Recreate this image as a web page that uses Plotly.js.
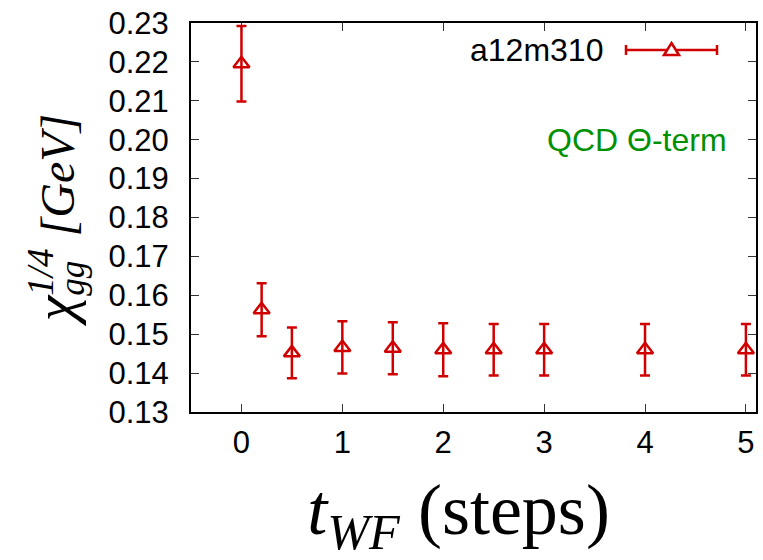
<!DOCTYPE html>
<html>
<head>
<meta charset="utf-8">
<script src="https://cdn.plot.ly/plotly-3.0.1.min.js"></script>
<style>html,body{margin:0;padding:0;background:#fff;}#chart{width:763px;height:560px;}</style>
</head>
<body>
<div id="chart"></div>
<script>
// Data
const tWF = [0, 0.2, 0.5, 1, 1.5, 2, 2.5, 3, 4, 5];
const chi14 = [0.2195, 0.1563, 0.1452, 0.1466, 0.1464, 0.1460, 0.1460, 0.1460, 0.1460, 0.1460];
const chiErr = [0.0097, 0.0068, 0.0065, 0.0067, 0.0067, 0.0068, 0.0066, 0.0066, 0.0066, 0.0066];
const xTicks = [0, 1, 2, 3, 4, 5];
const yTicks = [0.13, 0.14, 0.15, 0.16, 0.17, 0.18, 0.19, 0.20, 0.21, 0.22, 0.23];
const seriesName = 'a12m310';
const noteText = 'QCD Θ-term';

const RED = '#d00000';
const GREEN = 'rgb(0,145,0)';

const trace = {
  x: tWF, y: chi14, type: 'scatter', mode: 'markers', name: seriesName,
  showlegend: false, cliponaxis: false,
  marker: {symbol: 'triangle-up-open', size: 14, color: RED, line: {color: RED, width: 2.5}},
  error_y: {type: 'data', array: chiErr, visible: true, color: RED, thickness: 2.5, width: 5}
};

// plot area geometry (for the hand-drawn legend sample)
const L = 191, R = 7, T = 23, B = 148, W = 763, H = 560;
const pw = W - L - R, ph = H - T - B;
const px = v => (v - L) / pw;
const py = v => 1 - (v - T) / ph;

const legY = 50;
const shapes = [
  {type: 'line', xref: 'paper', yref: 'paper', x0: px(626), x1: px(717), y0: py(legY), y1: py(legY), line: {color: RED, width: 2.5}},
  {type: 'line', xref: 'paper', yref: 'paper', x0: px(626), x1: px(626), y0: py(legY - 5), y1: py(legY + 5), line: {color: RED, width: 2.5}},
  {type: 'line', xref: 'paper', yref: 'paper', x0: px(717), x1: px(717), y0: py(legY - 5), y1: py(legY + 5), line: {color: RED, width: 2.5}},
  {type: 'path', xref: 'paper', yref: 'paper',
   path: `M ${px(671.5)} ${py(43)} L ${px(679)} ${py(55)} L ${px(664)} ${py(55)} Z`,
   fillcolor: 'white', line: {color: RED, width: 2.5}}
];

const yTitle = '<span style="font-size:58px"><i>χ</i></span>' +
  '<sub><span style="font-size:35px"><i>g</i></span><span style="font-size:35px;letter-spacing:-35px"><i>g</i></span></sub>' +
  '<sup><span style="font-size:37px"><i>1/4</i></span></sup> <i>[GeV]</i>';

const xTitle = '<i>t</i><sub><i>WF</i></sub> (steps)<span style="font-size:60px">&nbsp;&nbsp;</span>';

const layout = {
  width: W, height: H,
  margin: {l: L, r: R, t: T, b: B, pad: 0},
  paper_bgcolor: 'white', plot_bgcolor: 'white',
  showlegend: false,
  font: {family: '"Liberation Sans", Arial, sans-serif', color: 'black'},
  xaxis: {
    range: [-0.5, 5.1], tickmode: 'array', tickvals: xTicks, ticktext: xTicks.map(String),
    ticks: 'inside', ticklen: 8, tickwidth: 1, tickcolor: '#333',
    showline: true, linecolor: 'black', linewidth: 2, mirror: 'ticks',
    showgrid: false, zeroline: false,
    tickfont: {size: 31, family: '"Liberation Sans", Arial, sans-serif'},
    ticklabelstandoff: 2,
    title: {text: xTitle, font: {family: '"Liberation Serif", "Times New Roman", serif', size: 72}, standoff: 25}
  },
  yaxis: {
    range: [0.13, 0.23], tickmode: 'array', tickvals: yTicks, ticktext: yTicks.map(v => v.toFixed(2)),
    ticks: 'inside', ticklen: 8, tickwidth: 1, tickcolor: '#333',
    showline: true, linecolor: 'black', linewidth: 2, mirror: 'ticks',
    showgrid: false, zeroline: false,
    tickfont: {size: 31, family: '"Liberation Sans", Arial, sans-serif'},
    ticklabelstandoff: 14,
    title: {text: yTitle, font: {family: '"Liberation Serif", "Times New Roman", serif', size: 48}, standoff: 19}
  },
  shapes: shapes,
  annotations: [
    {xref: 'paper', yref: 'paper', x: px(605), y: py(legY), xanchor: 'right', yanchor: 'middle',
     text: seriesName, showarrow: false, font: {size: 32, color: 'black', family: '"Liberation Sans", Arial, sans-serif'}},
    {xref: 'paper', yref: 'paper', x: px(729), y: py(140), xanchor: 'right', yanchor: 'middle',
     text: noteText, showarrow: false, font: {size: 32, color: GREEN, family: '"Liberation Sans", Arial, sans-serif'}}
  ]
};

Plotly.newPlot('chart', [trace], layout, {displayModeBar: false, staticPlot: true});
</script>
</body>
</html>
